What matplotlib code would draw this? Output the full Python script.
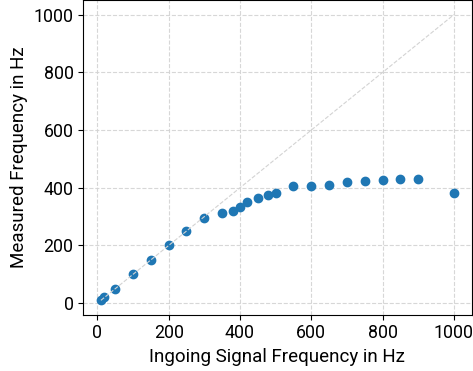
import numpy as np
import matplotlib
matplotlib.use('Agg')
import matplotlib.pyplot as plt

# ingoing signal frequency vs measured frequency (Hz)
f_in = [10, 20, 50, 100, 150, 200, 250, 300, 350, 380, 400, 420, 450, 480,
        500, 550, 600, 650, 700, 750, 800, 850, 900, 1000]
f_meas = [10, 20, 50, 100, 150, 200, 250, 297, 312, 320, 335, 350, 364, 376,
          383, 405, 405, 411, 419, 423, 426, 430, 431, 381]

plt.rcParams['font.family'] = ['Roboto', 'DejaVu Sans']
plt.rcParams['font.size'] = 12

fig, ax = plt.subplots(figsize=(4.73, 3.71), dpi=100)
ax.scatter(f_in, f_meas, color='#1f77b4', s=36, zorder=2)
lo, hi = min(f_in), max(f_in)
ax.plot([lo, hi], [lo, hi], color='lightgray', linestyle='--', linewidth=0.8, zorder=3)
ax.grid(True, linestyle='--', color='lightgray', alpha=0.9, zorder=0)
ax.set_axisbelow(True)
ax.set_xticks([0, 200, 400, 600, 800, 1000])
ax.set_yticks([0, 200, 400, 600, 800, 1000])
ax.tick_params(labelsize=12.8)
ax.set_xlabel('Ingoing Signal Frequency in Hz', fontsize=13.5)
ax.set_ylabel('Measured Frequency in Hz', fontsize=13.5)
plt.subplots_adjust(left=0.176, right=0.997, top=0.999, bottom=0.152)
plt.savefig('out.png', dpi=100)
